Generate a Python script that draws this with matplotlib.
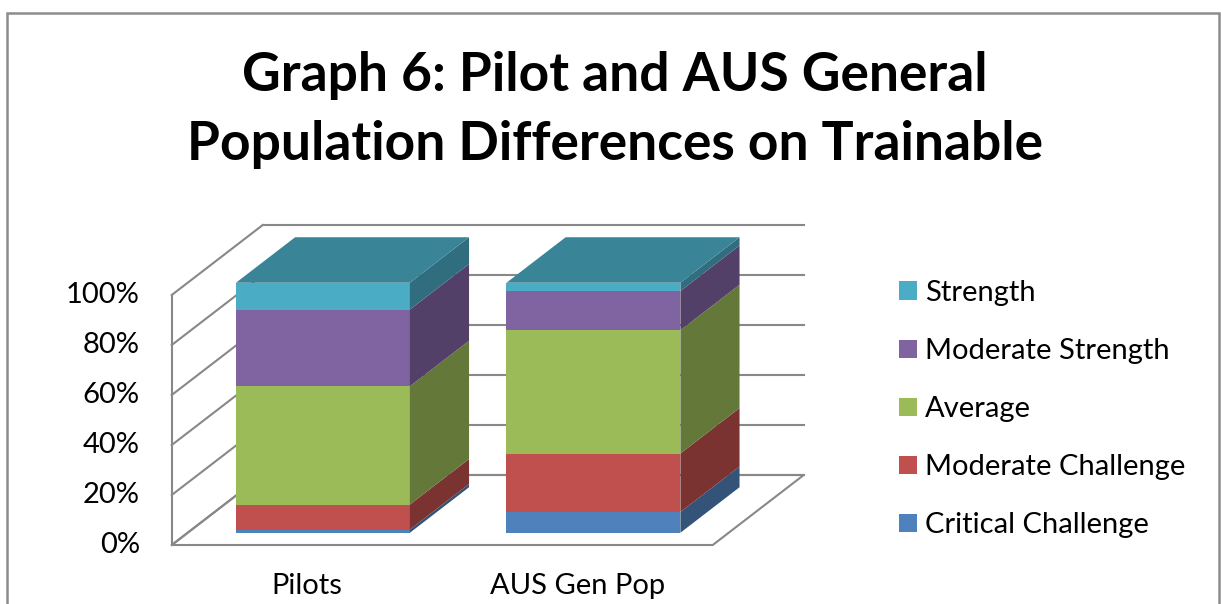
import numpy as np
import matplotlib.pyplot as plt
from matplotlib.patches import Polygon, Patch, Rectangle

plt.rcParams['font.family'] = ['Lato', 'DejaVu Sans']

# data (percent of each group)
groups = ['Pilots', 'AUS Gen Pop']
levels = ['Critical Challenge', 'Moderate Challenge', 'Average',
          'Moderate Strength', 'Strength']
critical = [1.3, 8.3]
mod_challenge = [10.0, 23.4]
average = [47.3, 49.3]
mod_strength = [30.7, 15.7]
strength = [10.7, 3.3]
yticks = [0, 20, 40, 60, 80, 100]

series = [critical, mod_challenge, average, mod_strength, strength]
colors = ['#4F81BD', '#C0504D', '#9BBB59', '#8064A2', '#4BACC6']


def shade(c, k):
    r, g, b = plt.matplotlib.colors.to_rgb(c)
    return (r * k, g * k, b * k)


W, H = 1221, 604
fig = plt.figure(figsize=(W / 100, H / 100), dpi=100)

# pixel mapping of the front plane: x unit = one category, y unit = 1 %
X0, SX = 307, 270.5
Y0, SY = 545, 2.5
xlim = (-0.7, 2.0)
ylim = (-10, 140)
lpx, rpx = X0 + SX * xlim[0], X0 + SX * xlim[1]
bpx, tpx = Y0 - SY * ylim[0], Y0 - SY * ylim[1]
ax = fig.add_axes([lpx / W, (H - bpx) / H, (rpx - lpx) / W, (bpx - tpx) / H])
ax.set_xlim(*xlim)
ax.set_ylim(*ylim)
ax.axis('off')

# oblique depth offset (full depth of the plot box)
DX = 91 / SX
DY = 70 / SY
f0, f1 = 0.175, 0.825
grid_c = '#888888'
glw = 1.5
fs = 21

x_lo, x_hi = -0.5, 1.5
# floor
ax.add_patch(Polygon([(x_lo, 0), (x_hi, 0), (x_hi + DX, DY), (x_lo + DX, DY)],
                     closed=True, facecolor='white', edgecolor=grid_c, lw=glw, zorder=1))
# left wall and back wall gridlines
for v in yticks:
    ax.plot([x_lo, x_lo + DX], [v, v + DY], color=grid_c, lw=glw, zorder=1)
    ax.plot([x_lo + DX, x_hi + DX], [v + DY, v + DY], color=grid_c, lw=glw, zorder=1)
    ax.text(x_lo - 0.118, v, f'{v}%', ha='right', va='center', fontsize=fs)
ax.plot([x_lo, x_lo], [0, 100], color=grid_c, lw=glw, zorder=1)

# stacked 3D-looking bars
bw = 0.643
xs = np.arange(len(groups))
xf = xs + f0 * DX
ddx, ddy = (f1 - f0) * DX, (f1 - f0) * DY
bottom = np.zeros(len(groups)) + f0 * DY
for vals, c in zip(series, colors):
    vals = np.array(vals)
    ax.bar(xf, vals, bottom=bottom, width=bw, color=c, zorder=3, linewidth=0)
    for i in range(len(groups)):
        r = xf[i] + bw / 2
        b0, b1 = bottom[i], bottom[i] + vals[i]
        ax.add_patch(Polygon([(r, b0), (r + ddx, b0 + ddy), (r + ddx, b1 + ddy), (r, b1)],
                             closed=True, facecolor=shade(c, 0.64), lw=0, zorder=3))
    bottom = bottom + vals
for i in range(len(groups)):
    l, r = xf[i] - bw / 2, xf[i] + bw / 2
    t = bottom[i]
    ax.add_patch(Polygon([(l, t), (r, t), (r + ddx, t + ddy), (l + ddx, t + ddy)],
                         closed=True, facecolor=shade(colors[-1], 0.77), lw=0, zorder=3))

for i, g in enumerate(groups):
    ax.text(xs[i], (Y0 - 586) / SY, g, ha='center', va='center', fontsize=fs)

fig.text(615 / W, (H - 110) / H,
         'Graph 6: Pilot and AUS General\nPopulation Differences on Trainable',
         ha='center', va='center', fontsize=38.4, fontweight='bold', linespacing=1.5)

handles = [Patch(facecolor=c, label=l) for c, l in zip(colors[::-1], levels[::-1])]
fig.legend(handles=handles, loc='upper left', bbox_to_anchor=(899 / W, (H - 280) / H),
           frameon=False, fontsize=fs, handlelength=0.6, handleheight=0.6,
           handletextpad=0.28, labelspacing=1.1, borderaxespad=0, borderpad=0)

# chart area border
fig.patches.append(Rectangle((7 / W, -0.1), (1219 - 7) / W, (H - 13) / H + 0.1,
                             transform=fig.transFigure, fill=False,
                             edgecolor='#8c8c8c', lw=1.8))

fig.savefig('out.png', dpi=100)
